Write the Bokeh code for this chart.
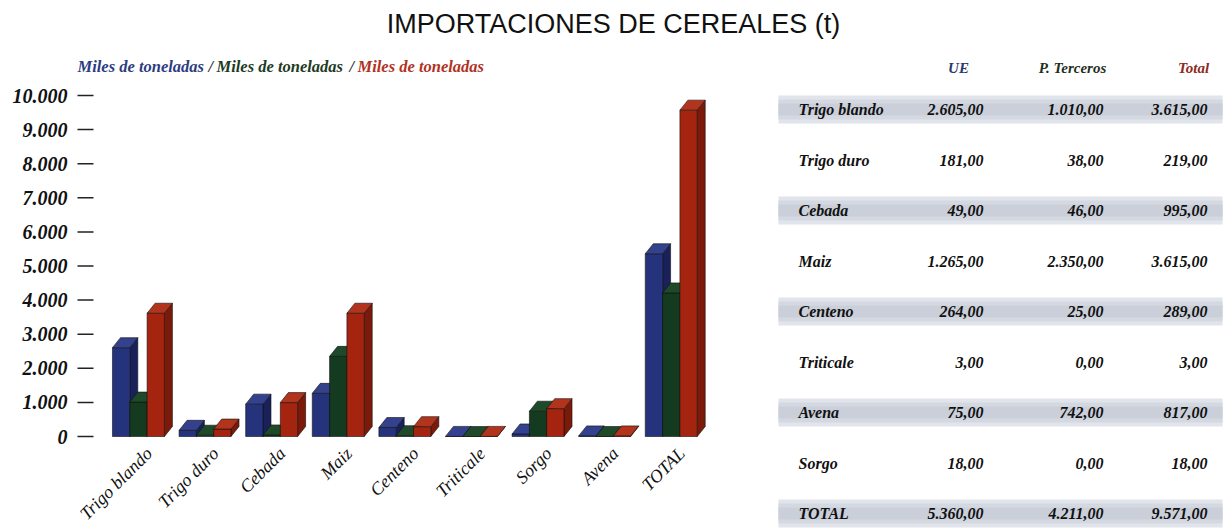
import math
from bokeh.plotting import figure
from bokeh.models import Range1d, ColumnDataSource
from bokeh.core.properties import value
from bokeh.embed import file_html
from bokeh.resources import INLINE

# ---------------- data ----------------
TITLE = "IMPORTACIONES DE CEREALES (t)"
UNIT_LABEL = "Miles de toneladas"
SERIES = ["UE", "P. Terceros", "Total"]

# chart (order as drawn in the bar chart)
chart_cats = ["Trigo blando", "Trigo duro", "Cebada", "Maiz", "Centeno",
              "Triticale", "Sorgo", "Avena", "TOTAL"]
chart_ue = [2605, 181, 949, 1265, 264, 3, 75, 18, 5360]
chart_pt = [1010, 38, 46, 2350, 25, 0, 742, 0, 4211]
chart_total = [3615, 219, 995, 3615, 289, 3, 817, 18, 9571]
y_ticks = [0, 1000, 2000, 3000, 4000, 5000, 6000, 7000, 8000, 9000, 10000]

# table (order as printed in the table)
table_rows = ["Trigo blando", "Trigo duro", "Cebada", "Maiz", "Centeno",
              "Triticale", "Avena", "Sorgo", "TOTAL"]
table_ue = [2605, 181, 49, 1265, 264, 3, 75, 18, 5360]
table_pt = [1010, 38, 46, 2350, 25, 0, 742, 0, 4211]
table_total = [3615, 219, 995, 3615, 289, 3, 817, 18, 9571]

# ---------------- styles ----------------
SERIF = value("Liberation Serif")
SANS = value("Liberation Sans")
FRONT = ["#25327c", "#143a20", "#a5240f"]
SIDE = ["#18215a", "#0b2413", "#7c1a0a"]
TOP = ["#34418c", "#1f4a2a", "#b3341c"]
HEAD_COLORS = ["#2c3a6b", "#1f2f22", "#8b2a22"]
SUB_COLORS = ["#2c3d7f", "#1d3b24", "#b0321f"]


def thousands(v):
    return f"{v:,}".replace(",", ".")


def money(v):
    return f"{v:,.2f}".replace(",", "X").replace(".", ",").replace("X", ".")


W, H = 1226, 528
AXIS_PX = 93              # where the value axis sits (px)
PX_PER_UNIT = 66.6        # px per category slot
X0 = -0.835 - AXIS_PX / PX_PER_UNIT   # chart x at the left edge of the canvas
Y_TOP_PX, Y_ZERO_PX = 95, 436
val_per_px = 10000 / (Y_ZERO_PX - Y_TOP_PX)

p = figure(width=W, height=H,
           x_range=Range1d(X0, X0 + W / PX_PER_UNIT),
           y_range=Range1d(-(H - Y_ZERO_PX) * val_per_px, 10000 + Y_TOP_PX * val_per_px),
           output_backend="svg", toolbar_location=None,
           x_axis_location=None, y_axis_location=None, min_border=0)
p.outline_line_color = None
p.grid.visible = False
p.extra_x_ranges = {"px": Range1d(0, W)}
p.extra_y_ranges = {"px": Range1d(H, 0), "row": Range1d((H - 109) / 50.5, -109 / 50.5)}

# ---------------- title & subtitle ----------------
p.text(x=[613], y=[23], text=[TITLE], x_range_name="px", y_range_name="px",
       text_font=SANS, text_font_size="27px", text_align="center",
       text_baseline="middle", text_color="#111111")
p.text(x=[77, 216, 357], y=[66, 66, 66], text=[UNIT_LABEL] * 3,
       x_range_name="px", y_range_name="px",
       text_font=SERIF, text_font_style="bold italic", text_font_size="16.5px",
       text_align="left", text_baseline="middle", text_color=SUB_COLORS)
p.text(x=[208, 349], y=[66, 66], text=["/", "/"], x_range_name="px", y_range_name="px",
       text_font=SERIF, text_font_style="bold italic", text_font_size="16.5px",
       text_align="left", text_baseline="middle", text_color="#333333")

# ---------------- value axis (ticks + labels on the y scale) ----------------
tick_src = ColumnDataSource(dict(y=y_ticks, label=[thousands(t) for t in y_ticks],
                                 x0=[AXIS_PX - 16] * len(y_ticks), x1=[AXIS_PX] * len(y_ticks),
                                 xl=[AXIS_PX - 26] * len(y_ticks)))
p.segment(x0="x0", x1="x1", y0="y", y1="y", source=tick_src, x_range_name="px",
          line_color="#222222", line_width=1.5)
p.text(x="xl", y="y", text="label", source=tick_src, x_range_name="px",
       text_font=SERIF, text_font_style="bold italic", text_font_size="20px",
       text_align="right", text_baseline="middle", text_color="#111111")

# ---------------- 3D bars ----------------
bw, dx, dy = 0.26, 0.12, 10 * val_per_px
xs, ys, fills = [], [], []
series_vals = [chart_ue, chart_pt, chart_total]
for i in range(len(chart_cats)):
    for s, vals in enumerate(series_vals):
        v = vals[i]
        x0 = i - 0.55 + s * bw
        x1 = x0 + bw
        xs.append([x1, x1 + dx, x1 + dx, x1]); ys.append([0, dy, v + dy, v]); fills.append(SIDE[s])
        xs.append([x0, x1, x1, x0]); ys.append([0, 0, v, v]); fills.append(FRONT[s])
        xs.append([x0, x1, x1 + dx, x0 + dx]); ys.append([v, v, v + dy, v + dy]); fills.append(TOP[s])
p.patches(xs=xs, ys=ys, fill_color=fills, line_color="#111111", line_width=0.6)

# category labels (rotated)
p.text(x=list(range(len(chart_cats))), y=[0] * len(chart_cats), text=chart_cats,
       angle=math.pi / 4, y_offset=14, text_font=SERIF, text_font_style="italic",
       text_font_size="18px", text_align="right", text_baseline="middle",
       text_color="#111111")

# ---------------- table ----------------
rows_idx = list(range(len(table_rows)))
band_rows = rows_idx[::2]
for frac, col in [(0.275, "#e1e4eb"), (0.2, "#d4d8e1"), (0.12, "#cacfda")]:
    p.quad(left=778, right=1222, top=[r - frac for r in band_rows],
           bottom=[r + frac for r in band_rows], x_range_name="px", y_range_name="row",
           fill_color=col, line_color=None)

p.text(x=[958, 1072, 1193], y=[67, 67, 67], text=SERIES, x_range_name="px", y_range_name="px",
       text_font=SERIF, text_font_style="bold italic", text_font_size="15px",
       text_align="center", text_baseline="middle", text_color=HEAD_COLORS)

src = ColumnDataSource(dict(
    y=rows_idx, name=table_rows,
    ue=[money(v) for v in table_ue],
    pt=[money(v) for v in table_pt],
    tot=[money(v) for v in table_total],
))
p.text(x=798, y="y", text="name", source=src, x_range_name="px", y_range_name="row",
       text_font=SERIF, text_font_style="bold italic", text_font_size="16px",
       text_align="left", text_baseline="middle", text_color="#111111")
for xcol, key in [(983, "ue"), (1103, "pt"), (1207, "tot")]:
    p.text(x=xcol, y="y", text=key, source=src, x_range_name="px", y_range_name="row",
           text_font=SERIF, text_font_style="bold italic", text_font_size="16px",
           text_align="right", text_baseline="middle", text_color="#111111")

open("out.html", "w").write(file_html(p, INLINE))
